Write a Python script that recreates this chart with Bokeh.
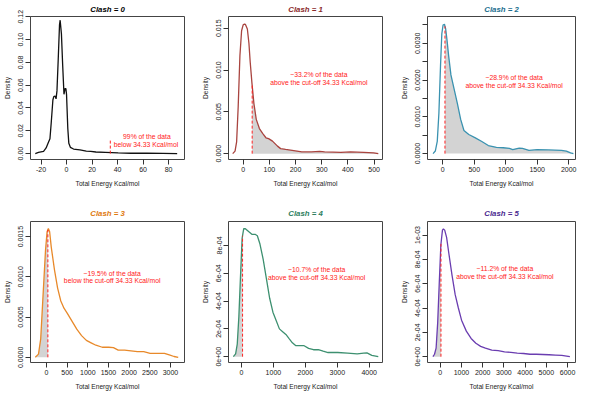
import numpy as np
from bokeh.plotting import figure
from bokeh.layouts import gridplot
from bokeh.models import FixedTicker, Range1d
from bokeh.core.properties import value
from bokeh.embed import file_html
from bokeh.resources import INLINE

FONT = "Liberation Sans"
CUTOFF = 34.33

titles = ["Clash = 0", "Clash = 1", "Clash = 2", "Clash = 3", "Clash = 4", "Clash = 5"]
title_colors = ["#000000", "#8B2A2A", "#1B6E8E", "#E07A10", "#2E8060", "#4B2A8F"]
curve_colors = ["#111111", "#A9443F", "#3A92B0", "#E8892A", "#3D9070", "#6A3DB0"]

# density curves
x0 = [-24.5, -22, -18, -16, -14.5, -13, -12, -10.7, -10, -9, -8.2, -7.5, -6.5, -5.5, -5, -4, -3,
      -2, -1.2, -0.5, 0, 1, 1.8, 3, 5.5, 10.5, 15.5, 19, 23, 30.5, 40.5, 50.5, 63, 75.5, 86.75]
y0 = [0.000, 0.001, 0.002, 0.005, 0.009, 0.013, 0.027, 0.047, 0.050, 0.0505, 0.048, 0.055, 0.083,
      0.113, 0.117, 0.105, 0.077, 0.052, 0.057, 0.057, 0.052, 0.022, 0.009, 0.0055, 0.004, 0.0033,
      0.0022, 0.002, 0.0014, 0.0011, 0.0006, 0.0003, 0.0003, 0.0002, 0.000]

x1 = [-40, -31, -25, -19, -12.4, -6, 0, 5, 8.7, 16, 22, 27, 33.6, 41, 50, 62, 75, 87, 97, 112, 131,
      143, 162, 187, 224, 261, 292, 311, 373, 410, 460, 498, 516]
y1 = [0, 0.0003, 0.0014, 0.0056, 0.0117, 0.0147, 0.0154, 0.01548, 0.01545, 0.0149, 0.0132, 0.0109,
      0.0084, 0.006, 0.0041, 0.003, 0.0024, 0.0019, 0.0018, 0.0015, 0.0009, 0.0006, 0.0005, 0.0004,
      0.0002, 0.0002, 0.00027, 0.0002, 0.00015, 0.0002, 0.00015, 0.0001, 0]

x2 = [-155, -119, -88, -62, -36, -15.5, 5, 26, 46, 67, 93, 129, 181, 232, 284, 336, 413, 517, 620,
      723, 852, 960, 1059, 1111, 1214, 1266, 1369, 1498, 1679, 1885, 1963, 2030, 2075]
y2 = [0, 0.00007, 0.00033, 0.0011, 0.0024, 0.00326, 0.0035, 0.00352, 0.00339, 0.00309, 0.00266,
      0.00214, 0.00175, 0.00136, 0.00093, 0.00063, 0.00052, 0.00043, 0.00033, 0.00022, 0.00017,
      0.00016, 0.00014, 0.00011, 0.00015, 0.00014, 0.00009, 0.00011, 0.0001, 0.00009, 0.00007,
      0.00002, 0]

x3 = [-270, -193, -139, -77, -23, 15, 46, 77, 116, 193, 270, 347, 424, 501, 617, 733, 849, 965,
      1080, 1196, 1350, 1505, 1620, 1736, 1890, 2045, 2199, 2353, 2508, 2662, 2778, 2855, 2971,
      3086, 3187]
y3 = [0, 0.00004, 0.00023, 0.00082, 0.00133, 0.00156, 0.0016, 0.00156, 0.00137, 0.00109, 0.00086,
      0.0007, 0.00061, 0.00055, 0.00045, 0.00035, 0.00027, 0.00021, 0.00018, 0.00015, 0.000125,
      0.000125, 0.00012, 0.00009, 0.00009, 0.00008, 0.00007, 0.00007, 0.00005, 0.00005, 0.00005,
      0.00005, 0.00003, 0.00001, 0]

x4 = [-254, -183, -132, -81, -30, 20, 71, 122, 223, 325, 426, 497, 579, 680, 782, 883, 985, 1086,
      1188, 1289, 1391, 1492, 1594, 1695, 1797, 1949, 2102, 2254, 2406, 2558, 2711, 3015, 3320,
      3624, 3827, 3929, 4081, 4284]
y4 = [0, 0.00002, 0.00009, 0.00029, 0.00058, 0.00085, 0.00092, 0.00092, 0.0009, 0.00088, 0.00088,
      0.00087, 0.00081, 0.0007, 0.00056, 0.00042, 0.00032, 0.00026, 0.0002, 0.00018, 0.00016,
      0.00013, 0.0001, 0.00008, 0.00008, 0.00008, 0.00006, 0.00005, 0.00005, 0.00004, 0.00003,
      0.00003, 0.000025, 0.00002, 0.000025, 0.000027, 0.00001, 0]

x5 = [-345, -270, -195, -120, -45, 30, 105, 150, 210, 300, 405, 555, 705, 855, 1005, 1230, 1455,
      1680, 1905, 2130, 2430, 2730, 3030, 3330, 3630, 3930, 4230, 4530, 4830, 5130, 5430, 5730,
      5955, 6110]
y5 = [0, 0.00002, 0.00007, 0.00028, 0.00061, 0.00092, 0.00104, 0.00105, 0.00104, 0.00098, 0.00085,
      0.00067, 0.00051, 0.0004, 0.0003, 0.00021, 0.00015, 0.00011, 0.000085, 0.00007, 0.000054,
      0.00005, 0.00004, 0.000036, 0.00003, 0.000026, 0.00002, 0.00002, 0.000018, 0.000016,
      0.000013, 0.00001, 0.000005, 0]

curves_x = [x0, x1, x2, x3, x4, x5]
curves_y = [y0, y1, y2, y3, y4, y5]
fill_side = [None, "above", "above", "below", "below", "below"]
cut_line_top0 = 0.013

notes = [["99% of the data", "below 34.33  Kcal/mol"],
         ["~33.2% of the data", "above the cut-off 34.33 Kcal/mol"],
         ["~28.9% of the data", "above the cut-off 34.33 Kcal/mol"],
         ["~19.5% of the data", "below the cut-off 34.33 Kcal/mol"],
         ["~10.7% of the data", "above the cut-off 34.33 Kcal/mol"],
         ["~11.2% of the data", "above the cut-off 34.33 Kcal/mol"]]
note_x = [63, 289, 1132, 1589, 2355, 3045]
note_y = [[0.0147, 0.0078], [0.00947, 0.00845], [0.002078, 0.001862],
          [0.001047, 0.000953], [0.000628, 0.000572], [0.000724, 0.000661]]

x_ranges = [(-28.25, 92.5), (-56, 532), (-243, 2108), (-386, 3339), (-406, 4416), (-600, 6375)]
y_ranges = [(-0.00517, 0.12025), (-0.0007, 0.0164), (-0.00016, 0.00373),
            (-0.0000645, 0.001688), (-0.0000418, 0.000972), (-0.0000478, 0.001111)]

xticks = [[-20, 0, 20, 40, 60, 80],
          [0, 100, 200, 300, 400, 500],
          [0, 500, 1000, 1500, 2000],
          [0, 500, 1000, 1500, 2000, 2500, 3000],
          [0, 1000, 2000, 3000, 4000],
          [0, 1000, 2000, 3000, 4000, 5000, 6000]]
xtick_labels = [["-20", "0", "20", "40", "60", "80"],
                ["0", "100", "200", "300", "400", "500"],
                ["0", "500", "1000", "1500", "2000"],
                ["0", "500", "1000", "1500", "2000", "2500", "3000"],
                ["0", "1000", "2000", "3000", "4000"],
                ["0", "1000", "2000", "3000", "4000", "5000", "6000"]]
yticks = [[0.0, 0.02, 0.04, 0.06, 0.08, 0.10, 0.12],
          [0.0, 0.005, 0.010, 0.015],
          [0.0, 0.0005, 0.0010, 0.0015, 0.0020, 0.0025, 0.0030, 0.0035],
          [0.0, 0.0005, 0.0010, 0.0015],
          [0.0, 0.0002, 0.0004, 0.0006, 0.0008],
          [0.0, 0.0002, 0.0004, 0.0006, 0.0008, 0.0010]]
ytick_labels = [["0.00", "0.02", "0.04", "0.06", "0.08", "0.10", "0.12"],
                ["0.000", "0.005", "0.010", "0.015"],
                ["0.0000", "", "0.0010", "", "0.0020", "", "0.0030", ""],
                ["0.0000", "0.0005", "0.0010", "0.0015"],
                ["0e+00", "2e-04", "4e-04", "6e-04", "8e-04"],
                ["0e+00", "2e-04", "4e-04", "6e-04", "8e-04", "1e-03"]]

# layout (px)
col_w = [195, 194, 195]
row_h = [200, 192]
b_left = [27, 33, 38]
b_right = [11, 7, 9]
b_top = [14, 21]
b_bottom = [41, 27]
title_standoff = [5, 8]

figs = []
for i in range(6):
    r, c = divmod(i, 3)
    p = figure(width=col_w[c], height=row_h[r], output_backend="svg", toolbar_location=None,
               x_range=Range1d(*x_ranges[i]), y_range=Range1d(*y_ranges[i]),
               min_border_left=b_left[c], min_border_right=b_right[c],
               min_border_top=b_top[r], min_border_bottom=b_bottom[r],
               title=titles[i])
    p.title.align = "center"
    p.title.text_font = FONT
    p.title.text_font_size = "7.8px"
    p.title.text_font_style = "bold italic"
    p.title.text_color = title_colors[i]
    p.title.standoff = title_standoff[r]
    p.xgrid.visible = False
    p.ygrid.visible = False
    p.outline_line_color = "#444444"
    p.outline_line_width = 1
    p.outline_line_alpha = 1
    p.background_fill_color = "white"
    p.border_fill_color = "white"

    xs = np.array(curves_x[i], dtype=float)
    ys = np.array(curves_y[i], dtype=float)
    ycut = float(np.interp(CUTOFF, xs, ys))
    if fill_side[i] == "above":
        m = xs > CUTOFF
        fx = np.concatenate([[CUTOFF], xs[m]])
        fy = np.concatenate([[ycut], ys[m]])
    elif fill_side[i] == "below":
        m = xs < CUTOFF
        fx = np.concatenate([xs[m], [CUTOFF]])
        fy = np.concatenate([ys[m], [ycut]])
    else:
        fx = fy = None
    if fx is not None:
        p.varea(x=fx, y1=np.zeros_like(fy), y2=fy, fill_color="#D3D3D3", fill_alpha=1)

    p.line(xs, ys, line_color=curve_colors[i], line_width=1.3)

    top = cut_line_top0 if i == 0 else ycut
    p.segment(x0=[CUTOFF], y0=[0], x1=[CUTOFF], y1=[top], line_color="#FF2020",
              line_width=1, line_dash="3 2")

    p.text(x=[note_x[i], note_x[i]], y=note_y[i], text=notes[i], text_color="#FF1A1A",
           text_font=value(FONT), text_font_size="6.8px", text_align="center",
           text_baseline="middle")

    for ax in (p.xaxis[0], p.yaxis[0]):
        ax.axis_line_color = None
        ax.major_tick_line_color = "#333333"
        ax.major_tick_out = 5
        ax.major_tick_in = 0
        ax.minor_tick_line_color = None
        ax.major_label_text_font = FONT
        ax.major_label_text_font_size = "7px"
        ax.major_label_text_color = "#222222"
        ax.major_label_standoff = 2
        ax.axis_label_text_font = FONT
        ax.axis_label_text_font_size = "6.6px"
        ax.axis_label_text_font_style = "normal"
        ax.axis_label_text_color = "#222222"
        ax.axis_label_standoff = 5
    p.xaxis[0].ticker = FixedTicker(ticks=xticks[i])
    p.xaxis[0].major_label_overrides = {t: l for t, l in zip(xticks[i], xtick_labels[i])}
    p.yaxis[0].ticker = FixedTicker(ticks=yticks[i])
    p.yaxis[0].major_label_overrides = {t: l for t, l in zip(yticks[i], ytick_labels[i])}
    p.yaxis[0].major_label_orientation = "vertical"
    p.xaxis[0].axis_label = "Total Energy Kcal/mol"
    p.yaxis[0].axis_label = "Density"
    figs.append(p)

grid = gridplot([figs[0:3], figs[3:6]], toolbar_location=None)
open("out.html", "w").write(file_html(grid, INLINE, title="Clash density"))
